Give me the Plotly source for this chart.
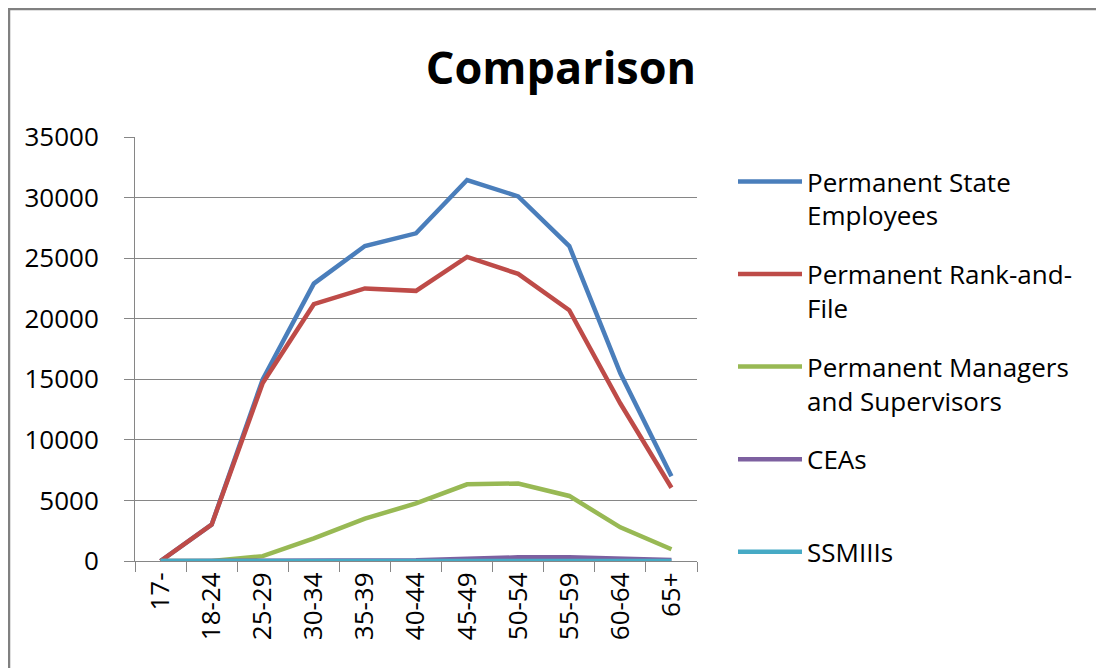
import plotly.graph_objects as go

categories = ["17-", "18-24", "25-29", "30-34", "35-39", "40-44", "45-49",
              "50-54", "55-59", "60-64", "65+"]

permanent_state = [0, 3000, 15000, 22900, 26000, 27050, 31450, 30100, 26000, 15500, 7000]
rank_and_file = [0, 3000, 14700, 21200, 22500, 22300, 25100, 23700, 20700, 13000, 6050]
managers_supervisors = [0, 0, 400, 1870, 3500, 4750, 6330, 6400, 5370, 2780, 970]
ceas = [0, 0, 0, 5, 20, 60, 180, 300, 300, 200, 80]
ssmiiis = [0, 0, 0, 0, 0, 5, 10, 20, 20, 15, 5]

series_names = ["Permanent State<br>Employees",
                "Permanent Rank-and-<br>File",
                "Permanent Managers<br>and Supervisors",
                "CEAs<br> ",
                "SSMIIIs"]
series_values = [permanent_state, rank_and_file, managers_supervisors, ceas, ssmiiis]
series_colors = ["#4A7EBB", "#BE4B48", "#98B954", "#7D60A0", "#46AAC5"]

FONT = "'Open Sans', Lato, sans-serif"

fig = go.Figure()
for i, (name, vals, col) in enumerate(zip(series_names, series_values, series_colors)):
    fig.add_trace(go.Scatter(
        x=categories, y=vals, name=name, mode="lines",
        line=dict(color=col, width=4.5),
        legendgroup=f"g{i}",
    ))

# the page body has an 8px margin; compensate so the picture lines up
OFF = 8
W, H = 1104 - OFF, 668 - OFF
L, R, T, B = 135 - OFF, 697 - OFF, 137 - OFF, 561 - OFF

fig.update_layout(
    width=W, height=H,
    paper_bgcolor="white", plot_bgcolor="white",
    margin=dict(l=L, r=W - R, t=T, b=H - B, pad=0),
    font=dict(family=FONT, size=26, color="#000000"),
    title=dict(text="<b>Comparison</b>", font=dict(family=FONT, size=45, color="#000000"),
               x=(561 - OFF) / W, xref="container", xanchor="center",
               y=1 - (68 - OFF) / H, yref="container", yanchor="middle"),
    showlegend=True,
    legend=dict(
        x=(733 - OFF - L) / (R - L), xanchor="left",
        y=(B - (158 - OFF)) / (B - T), yanchor="top",
        bgcolor="rgba(0,0,0,0)",
        font=dict(family=FONT, size=26, color="#000000"),
        tracegroupgap=22,
        itemwidth=64,
        valign="top",
        traceorder="grouped",
    ),
    xaxis=dict(
        type="category", range=[-0.5, 10.5],
        showgrid=False, showline=True, linecolor="#868686", linewidth=1,
        ticks="outside", tickson="boundaries", ticklen=10, tickcolor="#868686",
        tickangle=-90, tickfont=dict(family=FONT, size=26, color="#000000"),
        zeroline=False,
    ),
    yaxis=dict(
        range=[0, 35000], dtick=5000, tick0=0, tickformat="d",
        showgrid=True, gridcolor="#868686", gridwidth=1,
        showline=True, linecolor="#868686", linewidth=1,
        ticks="outside", ticklen=10, tickcolor="#868686",
        tickfont=dict(family=FONT, size=26, color="#000000"),
        ticklabelstandoff=20,
        zeroline=False,
    ),
    shapes=[dict(
        type="rect", xref="paper", yref="paper",
        x0=(1 - L) / (R - L), x1=(W + 20 - L) / (R - L),
        y0=(B - (H + 20)) / (B - T), y1=(B - 1) / (B - T),
        line=dict(color="#808080", width=2.5), fillcolor="rgba(0,0,0,0)",
        layer="below",
    )],
)

fig.write_html("out.html")
